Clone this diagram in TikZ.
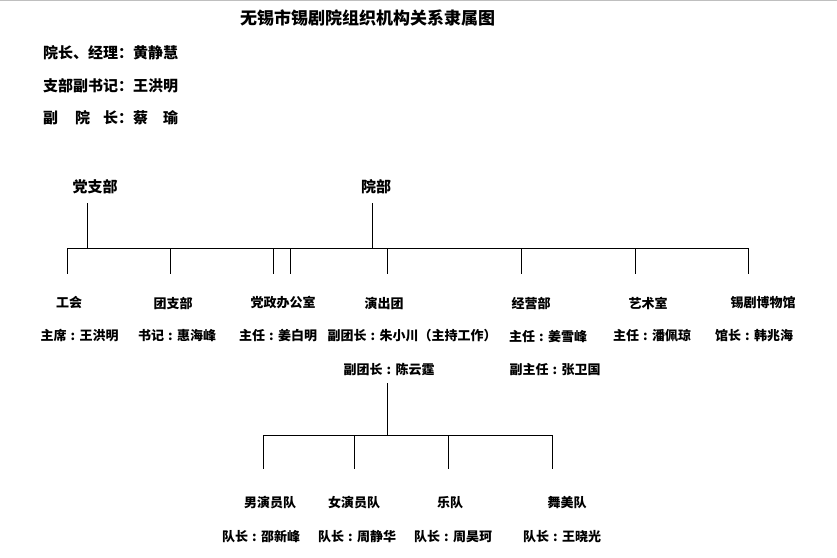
\documentclass[tikz,border=0pt]{standalone}
\usepackage{fontspec}
\usepackage{tikz}
\newfontfamily\cjk{Noto Sans CJK SC}
\usetikzlibrary{positioning}
\newcommand{\cln}{\makebox[1em]{:}}
\tikzset{title/.style = {font = \cjk\bfseries\fontsize{17}{20}\selectfont, inner sep = 0}}
\tikzset{head/.style = {font = \cjk\bfseries\fontsize{15}{18}\selectfont, inner sep = 0, anchor = west}}
\tikzset{unit/.style = {font = \cjk\bfseries\fontsize{15}{18}\selectfont, inner sep = 0}}
\tikzset{dept/.style = {font = \cjk\bfseries\fontsize{13}{15}\selectfont, inner sep = 0}}
\tikzset{rule/.style = {line width = 1pt}}

\begin{document}
\begin{tikzpicture}[x = 1pt, y = -1pt]
      \useasboundingbox (0, 0) rectangle (837, 557);
      \draw [gray!50] (0, 0.5) -- (837, 0.5);

      \node [title] (ttl) at (367.5, 18) {无锡市锡剧院组织机构关系隶属图};
      \node [head] (hd1) at (43, 53) {院长、经理：黄静慧};
      \node [head] (hd2) at (43, 86) {支部副书记：王洪明};
      \node [head] (hd3) at (43, 118) {副\hspace{17pt}院\hspace{13pt}长：蔡\hspace{15pt}瑜};

      \node [unit] (dzb) at (95, 187) {党支部};
      \node [unit] (yb) at (376, 187) {院部};

      \coordinate (dzbtop) at (87, 203);
      \coordinate (dzbbus) at (87, 248);
      \coordinate (ybtop) at (372, 203);
      \coordinate (ybbus) at (372, 248);
      \coordinate (busl) at (67, 248);
      \coordinate (busr) at (748, 248);

      \draw [rule] (dzbtop) -- (dzbbus);
      \draw [rule] (ybtop) -- (ybbus);
      \draw [rule] (busl) -- (busr);

      \node [dept] (gh) at (69, 303) {工会};
      \node [dept] (tzb) at (173, 303) {团支部};
      \node [dept] (dzbgs) at (283, 303) {党政办公室};
      \node [dept] (yct) at (384, 303) {演出团};
      \node [dept] (jyb) at (531, 303) {经营部};
      \node [dept] (yss) at (648, 303) {艺术室};
      \node [dept] (bwg) at (763, 303) {锡剧博物馆};

      \draw [rule] (busl) -- (67, 274);
      \draw [rule] (170, 248) -- (170, 274);
      \draw [rule] (273, 248) -- (273, 274);
      \draw [rule] (290, 248) -- (290, 274);
      \draw [rule] (387, 248) -- (387, 274);
      \draw [rule] (521, 248) -- (521, 274);
      \draw [rule] (635, 248) -- (635, 274);
      \draw [rule] (busr) -- (748, 274);

      \node [dept] (ghzx) at (79.5, 336) {主席\cln 王洪明};
      \node [dept] (tzbsj) at (177, 336) {书记\cln 惠海峰};
      \node [dept] (dzzr) at (278, 336) {主任\cln 姜白明};
      \node [dept] (yctf1) at (412, 336) {副团长\cln 朱小川（主持工作）};
      \node [dept] (jyzr) at (548, 336) {主任\cln 姜雪峰};
      \node [dept] (yszr) at (652, 336) {主任\cln 潘佩琼};
      \node [dept] (bwgz) at (754, 336) {馆长\cln 韩兆海};

      \node [dept] (yctf2) at (389, 370) {副团长\cln 陈云霆};
      \node [dept] (jyfz) at (555, 370) {副主任\cln 张卫国};

      \coordinate (ycttop) at (387, 383);
      \coordinate (yctbus) at (387, 435);
      \coordinate (lbusl) at (263, 435);
      \coordinate (lbusr) at (552, 435);

      \draw [rule] (ycttop) -- (yctbus);
      \draw [rule] (lbusl) -- (lbusr);
      \draw [rule] (lbusl) -- (263, 469);
      \draw [rule] (354, 435) -- (354, 469);
      \draw [rule] (448, 435) -- (448, 469);
      \draw [rule] (lbusr) -- (552, 469);

      \node [dept] (nyy) at (270, 503) {男演员队};
      \node [dept] (vyy) at (354, 503) {女演员队};
      \node [dept] (yd) at (450, 503) {乐队};
      \node [dept] (wmd) at (567, 503) {舞美队};

      \node [dept] (nyyz) at (261, 537) {队长\cln 邵新峰};
      \node [dept] (vyyz) at (357, 537) {队长\cln 周静华};
      \node [dept] (ydz) at (453, 537) {队长\cln 周昊珂};
      \node [dept] (wmdz) at (562, 537) {队长\cln 王晓光};
    \end{tikzpicture}
\end{document}
